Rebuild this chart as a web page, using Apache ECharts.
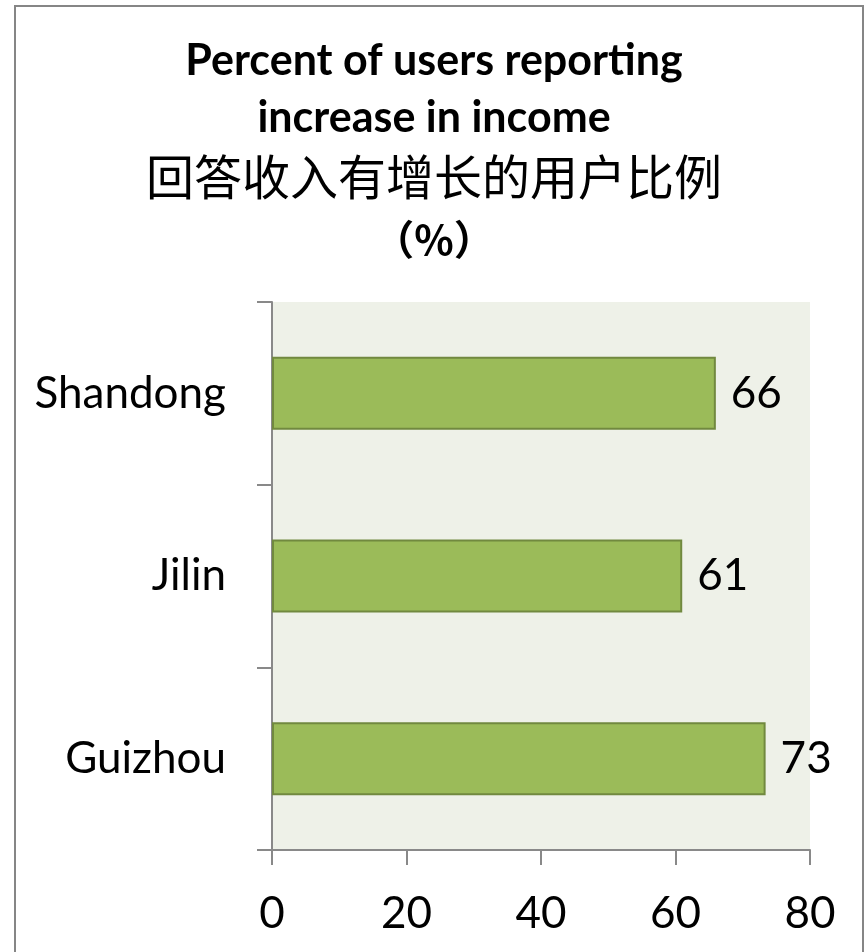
<!DOCTYPE html>
<html><head><meta charset="utf-8">
<script src="https://cdn.jsdelivr.net/npm/echarts@6/dist/echarts.min.js"></script>
<style>html,body{margin:0;padding:0;background:#fff}#c{width:868px;height:952px}</style>
</head><body><div id="c"></div>
<script>
const categories = ['Guizhou', 'Jilin', 'Shandong'];
const values = [73.4, 61, 66];
const xTicks = [0, 20, 40, 60, 80];
const titleLines = ['Percent of users reporting', 'increase in income', '回答收入有增长的用户比例', '（%）'];

const chart = echarts.init(document.getElementById('c'), null, {renderer: 'canvas'});
const font = 'Lato, "Open Sans", sans-serif';
chart.setOption({
  animation: false,
  backgroundColor: '#fff',
  graphic: [{type: 'rect', shape: {x: 15, y: 6, width: 848, height: 960}, style: {fill: 'none', stroke: '#868686', lineWidth: 2}, z: -1}],
  title: [
    {text: titleLines[0], left: 'center', top: 35, textStyle: {fontFamily: font, fontWeight: 'bold', fontSize: 43, color: '#000'}},
    {text: titleLines[1], left: 'center', top: 92, textStyle: {fontFamily: font, fontWeight: 'bold', fontSize: 43, color: '#000'}},
    {text: titleLines[2], left: 'center', top: 148, textStyle: {fontFamily: '"Noto Sans CJK SC"', fontWeight: 'normal', fontSize: 48, color: '#000'}},
    {text: titleLines[3], left: 'center', top: 214, textStyle: {fontFamily: '"Noto Sans CJK SC"', fontWeight: 'bold', fontSize: 41, color: '#000'}}
  ],
  grid: {left: 272, right: 58, top: 302, bottom: 102, show: true, backgroundColor: '#EEF1E8', borderWidth: 0},
  xAxis: {
    type: 'value', min: 0, max: 80, interval: 20,
    axisLine: {show: true, lineStyle: {color: '#898989', width: 2}},
    axisTick: {show: true, length: 15, lineStyle: {color: '#898989', width: 2}},
    splitLine: {show: false},
    axisLabel: {fontFamily: font, fontSize: 44, color: '#000', margin: 42,
      formatter: v => xTicks.includes(v) ? String(v) : ''}
  },
  yAxis: {
    type: 'category', data: categories,
    axisLine: {show: true, lineStyle: {color: '#898989', width: 2}},
    axisTick: {show: true, length: 15, lineStyle: {color: '#898989', width: 2}},
    axisLabel: {fontFamily: font, fontSize: 44, color: '#000', margin: 46}
  },
  series: [{
    type: 'bar', data: values, barCategoryGap: '60%',
    itemStyle: {color: '#9BBB59', borderColor: '#71893F', borderWidth: 2},
    label: {show: true, position: 'right', distance: 15, fontFamily: font, fontSize: 44, color: '#000',
      formatter: p => String(Math.round(p.value))}
  }]
});
</script></body></html>
